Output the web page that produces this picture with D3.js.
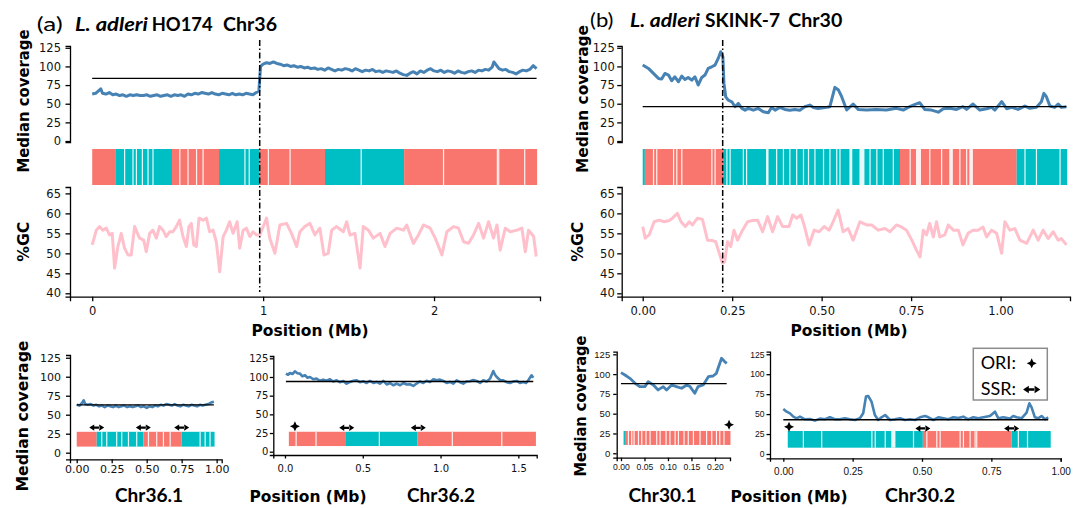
<!DOCTYPE html>
<html><head><meta charset="utf-8">
<script src="https://cdn.jsdelivr.net/npm/d3@7"></script>
<style>html,body{margin:0;padding:0;background:#fff;}svg{display:block;}</style>
</head><body>
<svg id="c" width="1080" height="508"></svg>
<script>
// ---------------- DATA ----------------
// Panel (a) L. adleri HO174 Chr36 — [position Mb, median coverage]
const covA = [[0.00,63],[0.02,64],[0.04,68],[0.05,70],[0.06,64],[0.08,63],[0.10,65],[0.12,62],[0.14,63],[0.16,61],[0.18,62],[0.20,60],[0.22,62],[0.24,61],[0.26,62],[0.28,61],[0.30,61],[0.32,62],[0.34,60],[0.36,61],[0.38,62],[0.40,60],[0.42,61],[0.44,62],[0.46,60],[0.48,62],[0.50,61],[0.52,62],[0.54,60],[0.56,63],[0.58,62],[0.60,64],[0.62,63],[0.64,65],[0.66,64],[0.68,63],[0.70,65],[0.72,63],[0.74,62],[0.76,64],[0.78,63],[0.80,62],[0.82,64],[0.84,62],[0.86,63],[0.88,62],[0.90,64],[0.92,63],[0.94,62],[0.96,65],[0.975,67],[0.985,100],[1.00,103],[1.02,105],[1.04,104],[1.06,106],[1.08,104],[1.10,103],[1.12,101],[1.14,102],[1.16,100],[1.18,101],[1.20,99],[1.22,100],[1.24,98],[1.26,99],[1.28,97],[1.30,98],[1.32,96],[1.34,97],[1.36,95],[1.38,98],[1.40,96],[1.42,94],[1.44,96],[1.46,95],[1.48,97],[1.50,96],[1.52,94],[1.54,97],[1.56,95],[1.58,93],[1.60,95],[1.62,94],[1.64,96],[1.66,93],[1.68,94],[1.70,92],[1.72,94],[1.74,93],[1.76,92],[1.78,94],[1.80,91],[1.82,89],[1.84,88],[1.86,91],[1.88,93],[1.90,90],[1.92,94],[1.94,92],[1.96,95],[1.98,97],[2.00,94],[2.02,93],[2.04,95],[2.06,92],[2.08,94],[2.10,93],[2.12,91],[2.14,94],[2.16,92],[2.18,91],[2.20,93],[2.22,94],[2.24,92],[2.26,95],[2.28,94],[2.30,96],[2.32,95],[2.34,99],[2.35,106],[2.36,103],[2.38,97],[2.40,95],[2.42,96],[2.44,93],[2.46,92],[2.48,90],[2.50,93],[2.52,95],[2.54,94],[2.56,96],[2.58,101],[2.60,97]];
const medianA = 84;
const breakA = 0.98;
const gcA = [[0.000,52.1],[0.024,55.8],[0.043,56.7],[0.062,55.8],[0.082,56.3],[0.101,54.6],[0.117,55.0],[0.131,46.3],[0.150,51.7],[0.170,55.0],[0.189,51.3],[0.209,49.6],[0.228,49.6],[0.248,56.7],[0.277,53.8],[0.301,53.3],[0.316,50.4],[0.336,55.0],[0.355,55.8],[0.375,53.8],[0.394,56.7],[0.414,55.8],[0.433,54.2],[0.453,55.4],[0.472,55.4],[0.492,56.7],[0.511,58.3],[0.531,54.2],[0.551,51.7],[0.566,56.7],[0.580,57.5],[0.594,52.1],[0.609,51.7],[0.625,58.8],[0.648,58.3],[0.668,58.8],[0.687,55.4],[0.707,55.8],[0.726,52.9],[0.746,45.4],[0.766,54.2],[0.785,55.8],[0.804,57.9],[0.824,55.0],[0.848,57.9],[0.863,51.3],[0.883,55.8],[0.902,56.3],[0.922,54.2],[0.941,55.4],[0.961,54.6],[0.981,54.6],[1.020,58.8],[1.039,53.8],[1.069,50.0],[1.098,57.1],[1.137,57.5],[1.166,55.0],[1.196,51.7],[1.215,55.4],[1.244,56.7],[1.274,57.5],[1.303,54.6],[1.332,56.3],[1.356,49.6],[1.381,50.0],[1.401,55.8],[1.430,56.7],[1.469,55.4],[1.489,57.9],[1.508,54.6],[1.537,55.0],[1.567,46.3],[1.586,56.7],[1.616,55.8],[1.645,53.8],[1.684,55.0],[1.713,51.7],[1.743,55.0],[1.782,56.3],[1.821,55.8],[1.840,57.1],[1.879,52.5],[1.909,54.6],[1.938,57.1],[1.977,56.3],[2.007,53.8],[2.046,49.6],[2.075,55.4],[2.114,56.7],[2.143,56.3],[2.173,52.9],[2.202,52.5],[2.231,54.6],[2.261,57.5],[2.290,53.8],[2.319,57.9],[2.348,53.8],[2.368,57.1],[2.387,50.8],[2.417,56.3],[2.446,55.4],[2.485,55.8],[2.514,56.3],[2.534,50.4],[2.553,55.8],[2.583,54.2],[2.598,49.2]];
// strand blocks [start, end, strand] and white gaps between genes [start, end]
const blocksA = [[0,0.135,"plus"],[0.135,0.467,"minus"],[0.467,0.742,"plus"],[0.742,0.98,"minus"],[0.98,1.362,"plus"],[1.362,1.825,"minus"],[1.825,2.603,"plus"]];
const gapsA = [[0.189,0.189],[0.238,0.238],[0.258,0.258],[0.293,0.293],[0.326,0.326],[0.355,0.355],[0.512,0.512],[0.56,0.56],[0.61,0.61],[0.648,0.648],[0.893,0.893],[0.918,0.918],[1.03,1.03],[1.157,1.157],[1.573,1.573],[2.055,2.055],[2.37,2.37],[2.378,2.378],[2.53,2.53]];
const ticksA = [0,1,2];

// Panel (b) L. adleri SKINK-7 Chr30
const covB = [[0.000,101.8],[0.016,97.3],[0.030,90.6],[0.044,83.9],[0.053,83.0],[0.062,90.6],[0.072,88.4],[0.081,80.8],[0.090,86.1],[0.100,79.4],[0.109,87.0],[0.118,82.5],[0.127,85.2],[0.137,81.6],[0.146,86.1],[0.155,75.0],[0.165,85.2],[0.174,88.4],[0.183,97.3],[0.193,99.5],[0.202,101.8],[0.211,110.7],[0.218,119.7],[0.224,113.0],[0.227,77.2],[0.232,59.3],[0.239,54.8],[0.249,52.6],[0.258,45.9],[0.267,50.4],[0.277,43.7],[0.286,41.4],[0.295,43.7],[0.309,41.4],[0.323,43.7],[0.337,39.2],[0.351,37.8],[0.360,45.0],[0.370,41.4],[0.383,45.0],[0.397,42.3],[0.411,41.4],[0.425,42.3],[0.439,41.4],[0.453,45.9],[0.467,48.2],[0.477,45.0],[0.490,43.7],[0.514,45.1],[0.523,46.0],[0.537,71.9],[0.547,68.3],[0.556,59.4],[0.570,41.6],[0.588,49.6],[0.602,42.4],[0.626,41.5],[0.653,42.4],[0.681,41.5],[0.709,43.8],[0.728,41.5],[0.742,45.1],[0.756,48.2],[0.774,51.4],[0.788,42.4],[0.807,41.5],[0.826,38.7],[0.840,43.3],[0.858,43.8],[0.877,42.4],[0.895,46.0],[0.905,42.4],[0.923,49.6],[0.942,41.5],[0.961,43.3],[0.975,45.1],[0.984,41.5],[1.003,52.7],[1.017,43.3],[1.031,45.1],[1.049,42.4],[1.068,46.9],[1.082,43.8],[1.100,45.1],[1.114,52.7],[1.121,63.9],[1.128,59.4],[1.138,46.9],[1.151,45.1],[1.161,49.6],[1.170,45.1],[1.184,46.0]];
const medianB = 46;
const breakB = 0.2235;
const gcB = [[0.000,56.7],[0.007,53.8],[0.018,54.6],[0.032,57.9],[0.046,58.3],[0.060,57.9],[0.074,58.2],[0.083,58.8],[0.097,60.0],[0.107,57.9],[0.119,56.7],[0.130,57.9],[0.139,57.1],[0.153,58.8],[0.167,58.5],[0.181,53.3],[0.195,53.2],[0.204,52.9],[0.214,50.0],[0.223,47.5],[0.229,47.9],[0.237,52.9],[0.246,51.7],[0.255,55.8],[0.265,53.3],[0.279,55.8],[0.293,57.9],[0.307,58.2],[0.321,58.3],[0.335,55.4],[0.349,59.2],[0.363,55.4],[0.377,59.2],[0.391,56.7],[0.409,56.7],[0.419,59.6],[0.430,58.8],[0.442,59.6],[0.451,57.1],[0.465,52.1],[0.479,55.8],[0.493,55.4],[0.507,56.7],[0.521,55.8],[0.532,57.9],[0.546,60.8],[0.560,55.4],[0.574,56.2],[0.588,53.3],[0.607,57.9],[0.626,57.1],[0.640,57.1],[0.658,55.8],[0.677,56.2],[0.691,55.4],[0.709,57.1],[0.723,56.6],[0.737,55.8],[0.752,53.3],[0.765,50.8],[0.775,49.1],[0.784,55.8],[0.793,54.6],[0.802,57.5],[0.812,54.1],[0.821,57.9],[0.830,54.1],[0.844,54.6],[0.854,57.1],[0.868,55.8],[0.882,55.8],[0.895,52.1],[0.909,55.0],[0.923,55.8],[0.937,55.8],[0.951,56.6],[0.961,54.1],[0.975,55.8],[0.989,55.0],[1.003,50.0],[1.012,57.9],[1.026,55.8],[1.040,56.2],[1.054,53.3],[1.073,52.5],[1.091,55.8],[1.105,53.3],[1.119,55.8],[1.133,53.7],[1.147,55.4],[1.161,53.3],[1.170,53.7],[1.184,52.1]];
const blocksB = [[0,0.006,"minus"],[0.006,0.225,"plus"],[0.225,0.719,"minus"],[0.719,1.045,"plus"],[1.045,1.186,"minus"]];
const gapsB = [[0.030,0.030],[0.039,0.039],[0.086,0.086],[0.095,0.095],[0.109,0.109],[0.193,0.193],[0.202,0.202],[0.235,0.235],[0.244,0.244],[0.281,0.281],[0.290,0.290],[0.346,0.353],[0.374,0.374],[0.393,0.393],[0.411,0.411],[0.430,0.430],[0.449,0.449],[0.463,0.463],[0.481,0.481],[0.505,0.505],[0.523,0.523],[0.542,0.542],[0.551,0.551],[0.579,0.587],[0.607,0.621],[0.635,0.635],[0.654,0.654],[0.672,0.672],[0.700,0.700],[0.747,0.747],[0.765,0.779],[0.802,0.802],[0.835,0.835],[0.858,0.868],[0.886,0.886],[0.905,0.905],[0.914,0.924],[1.068,1.068],[1.100,1.100],[1.166,1.166]];
const ticksB = [0,0.25,0.5,0.75,1.0];

// Sub-panels
const cov36_1 = [[0.00,63],[0.02,62],[0.04,66],[0.05,69],[0.06,64],[0.08,63],[0.10,64],[0.12,62],[0.14,63],[0.16,61],[0.18,62],[0.20,60],[0.22,62],[0.24,61],[0.26,60],[0.28,62],[0.30,60],[0.32,61],[0.34,62],[0.36,60],[0.38,61],[0.40,60],[0.42,61],[0.44,62],[0.46,60],[0.48,61],[0.50,59],[0.52,61],[0.54,60],[0.56,62],[0.58,61],[0.60,63],[0.62,62],[0.64,64],[0.66,63],[0.68,62],[0.70,64],[0.72,62],[0.74,61],[0.76,63],[0.78,62],[0.80,61],[0.82,63],[0.84,62],[0.86,61],[0.88,63],[0.90,62],[0.92,63],[0.94,64],[0.96,66],[0.98,67]];
const median36_1 = 63;
const blocks36_1 = [[0,0.143,"plus"],[0.143,0.476,"minus"],[0.476,0.75,"plus"],[0.75,0.985,"minus"]];
const gaps36_1 = [[0.178,0.178],[0.214,0.214],[0.285,0.285],[0.321,0.321],[0.369,0.369],[0.428,0.428],[0.512,0.512],[0.571,0.571],[0.619,0.619],[0.667,0.667],[0.881,0.881],[0.917,0.917],[0.952,0.952]];
const ssr36_1 = [0.143,0.476,0.75];
const ori36_1 = [];

const cov36_2 = [[0.006,104.5],[0.020,103],[0.032,105.4],[0.048,104],[0.064,107.6],[0.080,105],[0.096,104.5],[0.112,101],[0.129,102.3],[0.145,99],[0.161,100],[0.182,97],[0.203,97.8],[0.224,95],[0.246,96.5],[0.268,95],[0.289,97],[0.310,94],[0.332,95.6],[0.353,93],[0.375,94.7],[0.396,91],[0.418,93.4],[0.440,95],[0.461,95.6],[0.482,93],[0.503,94.3],[0.525,92],[0.546,94.7],[0.568,92],[0.589,93.4],[0.610,91],[0.632,94.7],[0.654,90],[0.675,92],[0.696,89],[0.718,91.2],[0.740,89],[0.761,92],[0.782,90],[0.803,90.3],[0.825,88],[0.846,91.2],[0.868,94],[0.889,92],[0.910,95],[0.932,93.4],[0.954,97],[0.975,95.6],[0.996,96.5],[1.018,94.7],[1.039,92],[1.060,93.4],[1.082,91],[1.103,95.6],[1.125,93],[1.146,91.2],[1.168,94],[1.189,94.3],[1.210,96],[1.232,94.7],[1.254,92],[1.275,95.6],[1.297,94],[1.318,97.8],[1.339,108],[1.350,103],[1.361,100],[1.382,96],[1.403,95.6],[1.425,93],[1.446,92],[1.468,94],[1.489,94.7],[1.510,92],[1.532,93.4],[1.550,92],[1.564,95.6],[1.585,102.3],[1.596,99]];
const median36_2 = 94;
const blocks36_2 = [[0.025,0.392,"plus"],[0.392,0.85,"minus"],[0.85,1.613,"plus"]];
const gaps36_2 = [[0.071,0.071],[0.199,0.199],[0.606,0.606],[1.075,1.075],[1.393,1.393]];
const ssr36_2 = [0.397,0.857];
const ori36_2 = [0.064];

const cov30_1 = [[0.000,101.9],[0.0085,98.9],[0.019,94.7],[0.030,88.4],[0.040,84.2],[0.051,84.2],[0.058,90.5],[0.069,86.3],[0.079,80.0],[0.090,84.2],[0.097,80.0],[0.108,86.3],[0.118,84.2],[0.129,82.1],[0.140,86.3],[0.147,84.2],[0.157,75.8],[0.164,84.2],[0.175,86.3],[0.186,96.8],[0.196,97.6],[0.203,101.0],[0.214,120.0],[0.221,115.7],[0.225,113.6]];
const median30_1 = 88;
const blocks30_1 = [[0.0055,0.0085,"minus"],[0.0085,0.233,"plus"]];
const gaps30_1 = [[0.0156,0.0156],[0.0227,0.0227],[0.0277,0.0277],[0.037,0.037],[0.044,0.044],[0.053,0.053],[0.0617,0.0617],[0.0759,0.0759],[0.083,0.083],[0.0957,0.0957],[0.104,0.104],[0.115,0.115],[0.122,0.122],[0.134,0.134],[0.143,0.143],[0.154,0.154],[0.168,0.168],[0.182,0.182],[0.193,0.193],[0.203,0.203],[0.210,0.210],[0.219,0.219]];
const ssr30_1 = [];
const ori30_1 = [0.23];

const cov30_2 = [[0.000,56.4],[0.012,53.0],[0.024,51.0],[0.036,46.8],[0.048,44.7],[0.060,46.8],[0.078,43.5],[0.096,43.9],[0.114,41.8],[0.132,44.3],[0.150,43.5],[0.168,46.0],[0.186,43.5],[0.204,43.5],[0.222,44.7],[0.240,43.5],[0.258,42.6],[0.276,44.7],[0.288,51.0],[0.298,71.9],[0.306,72.7],[0.318,65.6],[0.330,48.9],[0.342,42.6],[0.354,46.0],[0.367,48.9],[0.385,42.6],[0.403,43.5],[0.421,44.7],[0.439,42.6],[0.457,43.5],[0.475,42.6],[0.493,46.0],[0.511,47.6],[0.523,46.0],[0.541,42.6],[0.559,46.0],[0.577,44.7],[0.595,43.5],[0.613,46.0],[0.631,45.1],[0.649,46.8],[0.667,43.5],[0.685,46.0],[0.703,44.7],[0.721,46.0],[0.745,47.6],[0.763,53.0],[0.775,44.7],[0.793,46.0],[0.817,44.3],[0.829,47.6],[0.841,46.0],[0.859,44.7],[0.877,51.8],[0.887,63.5],[0.895,58.5],[0.907,46.0],[0.919,44.7],[0.931,47.6],[0.943,43.5],[0.955,46.0]];
const median30_2 = 43;
const blocks30_2 = [[0.016,0.503,"minus"],[0.503,0.823,"plus"],[0.823,0.964,"minus"]];
const gaps30_2 = [[0.072,0.072],[0.138,0.138],[0.319,0.319],[0.331,0.331],[0.367,0.367],[0.391,0.406],[0.469,0.469],[0.517,0.517],[0.553,0.553],[0.565,0.565],[0.637,0.637],[0.649,0.649],[0.673,0.673],[0.691,0.691],[0.697,0.697],[0.847,0.847],[0.880,0.880]];
const ssr30_2 = [0.503,0.823];
const ori30_2 = [0.0206];

const covTicks = [0,25,50,75,100,125];
const gcTicks = [40,45,50,55,60,65];

// ---------------- DRAWING ----------------
const svg = d3.select("#c");
const RED = "#F8766D", TEAL = "#00BFC4", BLUE = "#4682B4", PINK = "#FFC0CB";
const strandColor = d3.scaleOrdinal().domain(["plus","minus"]).range([RED, TEAL]);
const TICKFONT = "DejaVu Sans", TITLEFONT = "Lato";

function styleAxis(g, font, size) {
  g.attr("font-family", font).attr("font-size", size);
  g.select(".domain").attr("stroke", "#000").attr("stroke-width", 1.3);
  g.selectAll(".tick line").attr("stroke", "#000").attr("stroke-width", 1.3);
  g.selectAll(".tick text").attr("fill", "#111");
}
function axisTitle(text, x, y, rot, len) {
  const t = svg.append("text").attr("transform", `translate(${x},${y}) rotate(${rot})`)
    .attr("text-anchor", "middle").attr("dominant-baseline", "central")
    .attr("font-family", "DejaVu Sans").attr("font-weight", "bold").attr("font-size", 15)
    .attr("fill", "#000").text(text);
  if (len) t.attr("textLength", len).attr("lengthAdjust", "spacingAndGlyphs");
}
function chrLabel(text, cx, y, len) {
  svg.append("text").attr("x", cx).attr("y", y).attr("text-anchor", "middle")
    .attr("font-family", TITLEFONT).attr("font-weight", "bold").attr("font-size", 18.5)
    .attr("textLength", len).attr("lengthAdjust", "spacingAndGlyphs").text(text);
}
function drawBar(g, x, blocks, gaps, y0, y1) {
  g.selectAll(null).data(blocks).join("rect")
    .attr("x", d => x(d[0])).attr("width", d => x(d[1]) - x(d[0]))
    .attr("y", y0).attr("height", y1 - y0).attr("fill", d => strandColor(d[2]));
  g.selectAll(null).data(gaps).join("rect")
    .attr("x", d => x(d[0]) - 0.5).attr("width", d => Math.max(1.2, x(d[1]) - x(d[0])))
    .attr("y", y0).attr("height", y1 - y0).attr("fill", "#fff").attr("opacity", 0.9);
}
const ssrPath = "M-7.5,0 L-2.5,-3.2 L-2.5,3.2 Z M7.5,0 L2.5,-3.2 L2.5,3.2 Z M-3,-1.1 H3 V1.1 H-3 Z";
const oriPath = "M0,-5 L1.6,-1.6 L5,0 L1.6,1.6 L0,5 L-1.6,1.6 L-5,0 L-1.6,-1.6 Z";

// ---------- Top panel builder ----------
function topPanel(o) {
  const g = svg.append("g");
  const x = d3.scaleLinear().domain(o.xDomain).range(o.xRange);
  const yC = d3.scaleLinear().domain([-1.3, 127.5]).range([142, 45.9]);
  const yG = d3.scaleLinear().domain([39.15, 66.6]).range([296.7, 187]);
  const ax1 = g.append("g").attr("transform", `translate(${o.xRange[0]},0)`)
    .call(d3.axisLeft(yC).tickValues(covTicks).tickSizeOuter(0).tickSize(4.5).tickPadding(o.yPad));
  styleAxis(ax1, TICKFONT, 11.5);
  const ax2 = g.append("g").attr("transform", `translate(${o.xRange[0]},0)`)
    .call(d3.axisLeft(yG).tickValues(gcTicks).tickSizeOuter(0).tickSize(4.5).tickPadding(o.yPad));
  styleAxis(ax2, TICKFONT, 11.5);
  const ax3 = g.append("g").attr("transform", `translate(0,296.7)`)
    .call(d3.axisBottom(x).tickValues(o.ticks).tickFormat(d3.format(o.fmt)).tickSizeOuter(0).tickSize(4.5).tickPadding(5.5));
  styleAxis(ax3, TICKFONT, 11.5);
  g.append("path").datum(o.cov).attr("fill", "none").attr("stroke", BLUE).attr("stroke-width", 3)
    .attr("stroke-linejoin", "round")
    .attr("d", d3.line().x(d => x(d[0])).y(d => yC(d[1])));
  const ext = d3.extent(o.cov, d => d[0]);
  g.append("line").attr("x1", x(ext[0])).attr("x2", x(ext[1])).attr("y1", yC(o.median)).attr("y2", yC(o.median))
    .attr("stroke", "#000").attr("stroke-width", 1.3);
  drawBar(g, x, o.blocks, o.gaps, 149, 185);
  g.append("path").datum(o.gc).attr("fill", "none").attr("stroke", PINK).attr("stroke-width", 3)
    .attr("stroke-linejoin", "round")
    .attr("d", d3.line().x(d => x(d[0])).y(d => yG(d[1])));
  g.append("line").attr("x1", x(o.brk)).attr("x2", x(o.brk)).attr("y1", 40).attr("y2", 292)
    .attr("stroke", "#000").attr("stroke-width", 1.5).attr("stroke-dasharray", "6,2.5,1.5,2.5");
}

topPanel({xDomain: [-0.13, 2.62], xRange: [70, 540], ticks: ticksA, fmt: "d", cov: covA, median: medianA,
  gc: gcA, blocks: blocksA, gaps: gapsA, brk: breakA, yPad: 4.5});
topPanel({xDomain: [-0.0587, 1.194], xRange: [621.7, 1070], ticks: ticksB, fmt: ".2f", cov: covB, median: medianB,
  gc: gcB, blocks: blocksB, gaps: gapsB, brk: breakB, yPad: 2.5});

// ---------- Small panel builder ----------
function smallPanel(o) {
  const g = svg.append("g");
  const x = d3.scaleLinear().domain(o.xDomain).range(o.xRange);
  const y = d3.scaleLinear().domain(o.yDomain).range(o.yRange);
  const ay = g.append("g").attr("transform", `translate(${o.xRange[0]},0)`)
    .call(d3.axisLeft(y).tickValues(covTicks).tickSizeOuter(0).tickSize(o.tick).tickPadding(o.yPad));
  styleAxis(ay, o.yFont, o.yFs);
  const ax = g.append("g").attr("transform", `translate(0,${o.yRange[0]})`)
    .call(d3.axisBottom(x).tickValues(o.ticks).tickFormat(d3.format(o.fmt)).tickSizeOuter(0).tickSize(o.tick).tickPadding(o.xPad));
  styleAxis(ax, o.xFont, o.xFs);
  drawBar(g, x, o.blocks, o.gaps, y(o.bar[1]), y(o.bar[0]));
  g.append("path").datum(o.cov).attr("fill", "none").attr("stroke", BLUE).attr("stroke-width", o.lw)
    .attr("stroke-linejoin", "round")
    .attr("d", d3.line().x(d => x(d[0])).y(d => y(d[1])));
  const ext = d3.extent(o.cov, d => d[0]);
  g.append("line").attr("x1", x(ext[0])).attr("x2", x(ext[1])).attr("y1", y(o.median)).attr("y2", y(o.median))
    .attr("stroke", "#000").attr("stroke-width", 1.4);
  g.selectAll(null).data(o.ssr).join("path").attr("d", ssrPath)
    .attr("transform", d => `translate(${x(d)},${y(o.markY)})`).attr("fill", "#000");
  g.selectAll(null).data(o.ori).join("path").attr("d", oriPath)
    .attr("transform", d => `translate(${x(d)},${y(o.markY + 2)})`).attr("fill", "#000");
}

smallPanel({xDomain: [-0.048, 1.036], xRange: [70, 221.7], yDomain: [-8.7, 128.6], yRange: [459.3, 355],
  ticks: [0, 0.25, 0.5, 0.75, 1.0], fmt: ".2f", cov: cov36_1, median: median36_1, blocks: blocks36_1, gaps: gaps36_1,
  ssr: ssr36_1, ori: ori36_1, bar: [8, 27.5], markY: 33, tick: 4, yPad: 5, xPad: 2, yFont: TICKFONT, yFs: 11, xFont: TICKFONT, xFs: 11, lw: 2.6});
smallPanel({xDomain: [-0.075, 1.618], xRange: [273.3, 536.7], yDomain: [-4.4, 128.1], yRange: [455, 356],
  ticks: [0, 0.5, 1.0, 1.5], fmt: ".1f", cov: cov36_2, median: median36_2, blocks: blocks36_2, gaps: gaps36_2,
  ssr: ssr36_2, ori: ori36_2, bar: [7.6, 26.7], markY: 32, tick: 3.5, yPad: 1.5, xPad: 6, yFont: TICKFONT, yFs: 10, xFont: TICKFONT, xFs: 10, lw: 2.6});
smallPanel({xDomain: [-0.0091, 0.232], xRange: [616.7, 730], yDomain: [-5.6, 128.3], yRange: [457.7, 351.7],
  ticks: [0, 0.05, 0.1, 0.15, 0.2], fmt: ".2f", cov: cov30_1, median: median30_1, blocks: blocks30_1, gaps: gaps30_1,
  ssr: ssr30_1, ori: ori30_1, bar: [10.5, 28.2], markY: 34, tick: 3.5, yPad: 3, xPad: 2.5, yFont: "Liberation Sans", yFs: 9.5, xFont: "Liberation Sans", xFs: 8.6, lw: 2.8});
smallPanel({xDomain: [-0.048, 1.0], xRange: [770, 1060.7], yDomain: [-5.4, 128.2], yRange: [458.3, 351.7],
  ticks: [0, 0.25, 0.5, 0.75, 1.0], fmt: ".2f", cov: cov30_2, median: median30_2, blocks: blocks30_2, gaps: gaps30_2,
  ssr: ssr30_2, ori: ori30_2, bar: [7.9, 28.8], markY: 32, tick: 3.5, yPad: 2, xPad: 6, yFont: "Liberation Sans", yFs: 8.6, xFont: "Liberation Sans", xFs: 10, lw: 2.6});

// ---------- Titles ----------
function title(parts, y) {
  const t = svg.append("text").attr("y", y).attr("font-family", TITLEFONT).attr("font-size", 19.5).attr("fill", "#000");
  parts.forEach(p => {
    t.append("tspan").attr("x", p.x).attr("font-weight", p.w).attr("font-style", p.i ? "italic" : "normal")
      .attr("textLength", p.len).attr("lengthAdjust", "spacingAndGlyphs").text(p.t);
  });
}
title([{t: "(a)", x: 36.7, w: "normal", len: 26}, {t: "L. adleri", x: 75, w: "bold", i: true, len: 73},
       {t: "HO174", x: 151.7, w: "bold", len: 61}, {t: "Chr36", x: 223, w: "bold", len: 54}], 30.5);
title([{t: "(b)", x: 590, w: "normal", len: 23.5}, {t: "L. adleri", x: 630, w: "bold", i: true, len: 70},
       {t: "SKINK-7", x: 705, w: "bold", len: 75}, {t: "Chr30", x: 788.3, w: "bold", len: 54}], 26.7);

axisTitle("Median coverage", 24, 101, -90, 143);
axisTitle("%GC", 23.5, 241.7, -90, 40);
axisTitle("Median coverage", 583, 99, -90, 148);
axisTitle("%GC", 577.5, 241.7, -90, 40);
axisTitle("Median coverage", 23, 416, -90, 151);
axisTitle("Median coverage", 581, 406, -90, 141);
axisTitle("Position (Mb)", 310, 331, 0, 117);
axisTitle("Position (Mb)", 849, 331, 0, 117);
axisTitle("Position (Mb)", 308, 497, 0, 117);
axisTitle("Position (Mb)", 789, 497, 0, 117);

chrLabel("Chr36.1", 149, 502, 68);
chrLabel("Chr36.2", 441, 502, 68);
chrLabel("Chr30.1", 662.5, 502, 68);
chrLabel("Chr30.2", 920, 502, 70);

// ---------- Legend ----------
const lg = svg.append("g");
lg.append("rect").attr("x", 973.3).attr("y", 348.3).attr("width", 74).attr("height", 51.7)
  .attr("fill", "#fff").attr("stroke", "#8c8c8c").attr("stroke-width", 1.5);
lg.append("text").attr("x", 980.7).attr("y", 369.3).attr("font-family", TITLEFONT).attr("font-size", 18).text("ORI:");
lg.append("text").attr("x", 980.7).attr("y", 395).attr("font-family", TITLEFONT).attr("font-size", 18).text("SSR:");
lg.append("path").attr("d", oriPath).attr("transform", "translate(1031.7,363.3)").attr("fill", "#000");
lg.append("path").attr("d", ssrPath).attr("transform", "translate(1031.7,389.5) scale(1.15)").attr("fill", "#000");
</script>
</body></html>
